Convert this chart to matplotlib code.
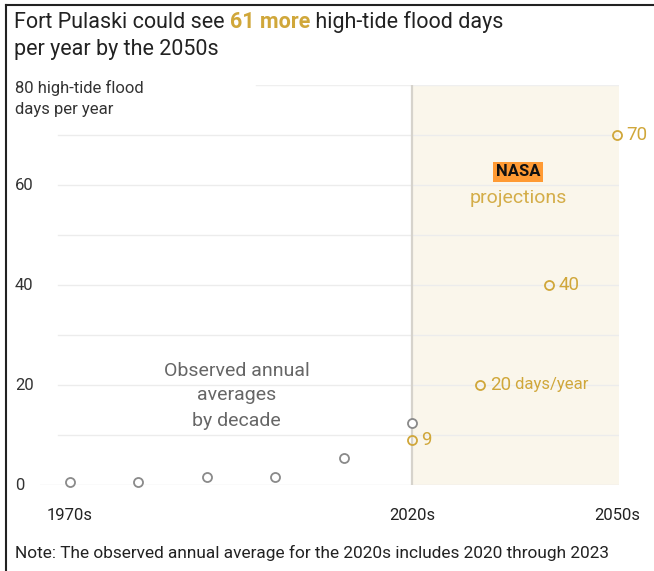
import matplotlib.pyplot as plt
from matplotlib.lines import Line2D

plt.rcParams['font.family'] = ['Roboto', 'DejaVu Sans']

# decades on the x axis (index positions)
decades = ['1970s', '1980s', '1990s', '2000s', '2010s', '2020s', '2030s', '2040s', '2050s']
shown_ticks = {0: '1970s', 5: '2020s', 8: '2050s'}

# observed annual averages by decade (1970s .. 2020s)
observed_x = [0, 1, 2, 3, 4, 5]
observed = [0.6, 0.6, 1.6, 1.6, 5.4, 12.4]

# NASA projections (2020s .. 2050s)
nasa_x = [5, 6, 7, 8]
nasa = [9, 20, 40, 70]
nasa_labels = ['9', '20', '40', '70']

y_ticks = [0, 20, 40, 60]
grid_vals = [10, 20, 30, 40, 50, 60, 70]

gold = '#d0a73a'
grey = '#8a8a8a'

W, H = 654, 571
fig = plt.figure(figsize=(W / 100, H / 100), dpi=100)

def fx(px):
    return px / W

def fy(py):
    return 1 - py / H

ax = fig.add_axes([fx(40), fy(485), fx(619) - fx(40), fy(85) - fy(485)])
ax.set_xlim(-0.44, 8.03)
ax.set_ylim(0, 80)
ax.axis('off')

# shaded projection area
ax.axvspan(5, 8.03, ymin=0, ymax=1, color='#faf6eb', zorder=0, lw=0)

# gridlines
x0, x1 = ax.get_xlim()
for g in grid_vals:
    ax.plot([-0.18, x1], [g, g], color='#ececec', lw=1, zorder=1)
ax.plot([2.72, x1], [80, 80], color='#efefef', lw=1, zorder=1)
ax.plot([x0, x1], [0, 0], color='#e6e6e6', lw=1, zorder=1)

# divider at 2020s
ax.plot([5, 5], [0, 80], color='#d6d3cc', lw=1.6, zorder=2)

ax.plot(observed_x, observed, 'o', mfc='white', mec=grey, mew=1.3, ms=6.5,
        clip_on=False, zorder=4, linestyle='none')
ax.plot(nasa_x, nasa, 'o', mfc='none', mec=gold, mew=1.3, ms=6.5,
        clip_on=False, zorder=5, linestyle='none')

# point labels
for xi, v, lab in zip(nasa_x, nasa, nasa_labels):
    ax.annotate(lab, (xi, v), xytext=(7, 0), textcoords='offset points',
                ha='left', va='center', color=gold, fontsize=13.5)
    if lab == '20':
        ax.annotate(' days/year', (xi, v), xytext=(22, 0), textcoords='offset points',
                    ha='left', va='center', color=gold, fontsize=12)

# y tick labels
for v in y_ticks:
    ax.annotate(str(v), (0, v), xycoords=('figure fraction', 'data'),
                xytext=(15, 0), textcoords='offset pixels',
                ha='left', va='center', color='#333333', fontsize=12)
fig.text(fx(15), fy(88), '80 high-tide flood', ha='left', va='center',
         color='#333333', fontsize=12)
fig.text(fx(15), fy(110), 'days per year', ha='left', va='center',
         color='#333333', fontsize=12)

# x tick labels
for i, lab in shown_ticks.items():
    ax.annotate(lab, (i, 0), xytext=(0, -30), textcoords='offset pixels',
                ha='center', va='center', color='#222222', fontsize=12)

# annotations
ax.text(2.44, 17.9, 'Observed annual\naverages\nby decade', ha='center', va='center',
        color='#666666', fontsize=14, linespacing=1.5)
ax.text(6.55, 62.6, 'NASA', ha='center', va='center', color='#111111', fontsize=12,
        fontweight='bold', bbox=dict(boxstyle='square,pad=0.15', fc='#ff9a33', ec='none'))
ax.text(6.55, 57.4, 'projections', ha='center', va='center', color='#d4ad48', fontsize=14)

# title with highlighted words
fig.canvas.draw()
r = fig.canvas.get_renderer()
parts = [('Fort Pulaski could see ', '#222222', 'normal'),
         ('61 more', gold, 'bold'),
         (' high-tide flood days', '#222222', 'normal')]
xpos = 14
for s, c, w in parts:
    t = fig.text(fx(xpos), fy(22), s, ha='left', va='center', color=c,
                 fontsize=15.5, fontweight=w)
    xpos += t.get_window_extent(r).width
fig.text(fx(14), fy(50), 'per year by the 2050s', ha='left', va='center',
         color='#222222', fontsize=15.5)

fig.text(fx(15), fy(553), 'Note: The observed annual average for the 2020s includes 2020 through 2023',
         ha='left', va='center', color='#222222', fontsize=12.4)

# frame lines (left and top)
fig.add_artist(Line2D([fx(6), fx(6)], [0, fy(5)], color='#222222', lw=1.5))
fig.add_artist(Line2D([fx(6), 1], [fy(5), fy(5)], color='#222222', lw=1.5))

fig.savefig('out.png', dpi=100)
